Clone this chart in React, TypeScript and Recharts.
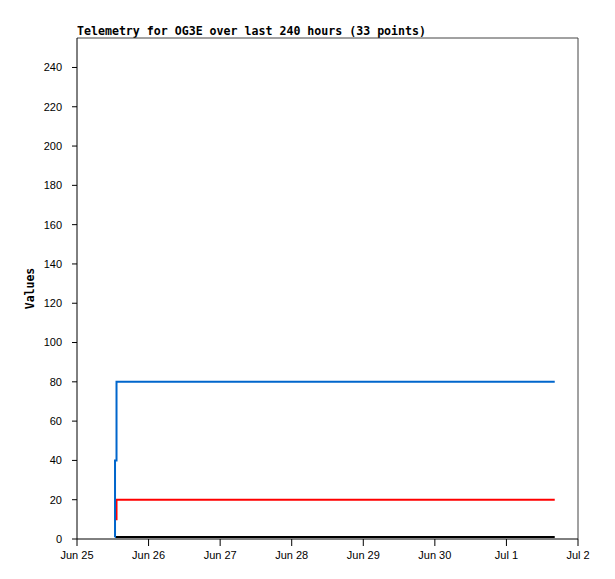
import { LineChart, Line, XAxis, YAxis, ReferenceLine } from 'recharts'

// hours since Jun 25 00:00
const hours = [
  12.7, 12.75, 13.25, 18, 23, 28, 33, 38, 43, 48, 53, 58, 63, 68, 73, 78, 83,
  88, 93, 98, 103, 108, 113, 118, 123, 128, 133, 138, 143, 148, 153, 157, 160.2,
]

const blueValues = [
  1, 40, 80, 80, 80, 80, 80, 80, 80, 80, 80, 80, 80, 80, 80, 80, 80, 80, 80, 80,
  80, 80, 80, 80, 80, 80, 80, 80, 80, 80, 80, 80, 80,
]

const redValues = [
  null, 10, 20, 20, 20, 20, 20, 20, 20, 20, 20, 20, 20, 20, 20, 20, 20, 20, 20,
  20, 20, 20, 20, 20, 20, 20, 20, 20, 20, 20, 20, 20, 20,
]

const blackValues = [
  1, 1, 1, 1, 1, 1, 1, 1, 1, 1, 1, 1, 1, 1, 1, 1, 1, 1, 1, 1, 1, 1, 1, 1, 1, 1,
  1, 1, 1, 1, 1, 1, 1,
]

const dayTicks = [0, 24, 48, 72, 96, 120, 144, 168]
const dayLabels = ['Jun 25', 'Jun 26', 'Jun 27', 'Jun 28', 'Jun 29', 'Jun 30', 'Jul 1', 'Jul 2']
const valueTicks = [0, 20, 40, 60, 80, 100, 120, 140, 160, 180, 200, 220, 240]

const data = hours.map((t, i) => ({
  t,
  blue: blueValues[i],
  red: redValues[i],
  black: blackValues[i],
}))

const tickStyle = { fill: '#000', fontSize: 11, fontFamily: 'Liberation Sans' }
const mono = '"DejaVu Sans Mono", monospace'

const App = () => {
  return (
    <div style={{ position: 'absolute', left: 0, top: 0, width: 615, height: 579, background: '#fff' }}>
      <div
        style={{
          position: 'absolute',
          left: 77,
          top: 24,
          fontFamily: mono,
          fontWeight: 'bold',
          fontSize: 11.6,
          whiteSpace: 'nowrap',
          color: '#000',
        }}
      >
        Telemetry for OG3E over last 240 hours (33 points)
      </div>
      <LineChart width={615} height={579} data={data} margin={{ top: 38, right: 37, left: 27, bottom: 10 }}>
        <XAxis
          type="number"
          dataKey="t"
          domain={[0, 168]}
          ticks={dayTicks}
          tickFormatter={(v: number) => dayLabels[dayTicks.indexOf(v)]}
          height={30}
          tickSize={7}
          tickMargin={5}
          stroke="#000"
          tick={tickStyle}
          interval={0}
        />
        <YAxis
          type="number"
          domain={[0, 255]}
          ticks={valueTicks}
          width={50}
          tickSize={5}
          tickMargin={10}
          stroke="#000"
          tick={tickStyle}
          interval={0}
          label={{
            value: 'Values',
            angle: -90,
            position: 'insideLeft',
            offset: 3,
            style: { fontFamily: mono, fontWeight: 'bold', fontSize: 11.5, fill: '#000', textAnchor: 'middle' },
          }}
        />
        <ReferenceLine y={255} stroke="#444" strokeWidth={1} />
        <ReferenceLine x={168} stroke="#444" strokeWidth={1} />
        <Line type="stepAfter" dataKey="black" stroke="#000" strokeWidth={2} dot={false} isAnimationActive={false} />
        <Line type="stepAfter" dataKey="red" stroke="#ff0000" strokeWidth={2} dot={false} isAnimationActive={false} />
        <Line type="stepAfter" dataKey="blue" stroke="#0066cc" strokeWidth={2} dot={false} isAnimationActive={false} />
      </LineChart>
    </div>
  )
}

export default App
